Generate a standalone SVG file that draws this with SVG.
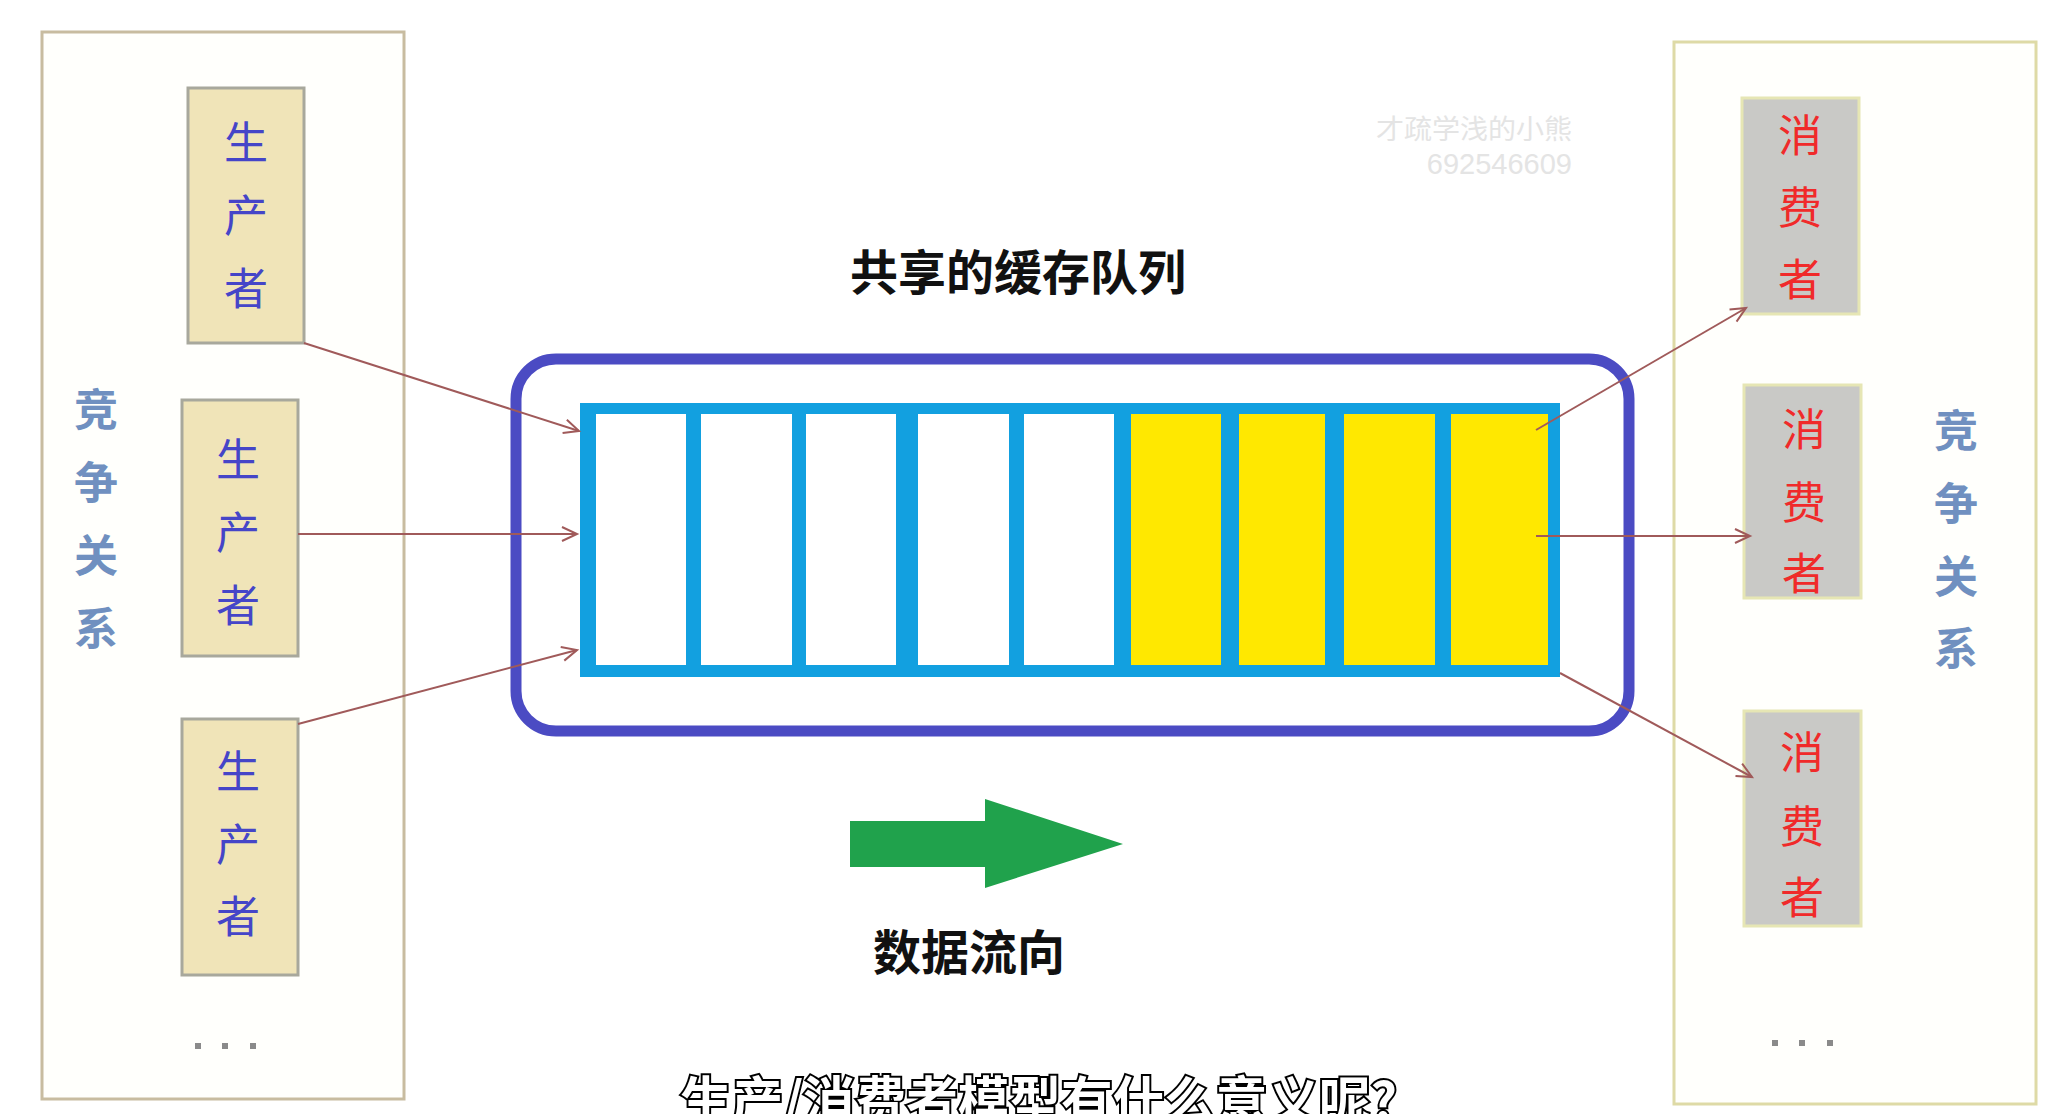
<svg xmlns="http://www.w3.org/2000/svg" width="2064" height="1114" viewBox="0 0 2064 1114">
<style>
.cjk{font-family:"Noto Sans CJK SC","Noto Sans",sans-serif}
.prod{fill:#4545c8;font-size:44px;text-anchor:middle}
.cons{fill:#f02a2a;font-size:44px;text-anchor:middle}
.rel{fill:#7090c0;font-size:44px;font-weight:bold;text-anchor:middle}
.pbox{fill:#f0e4b8;stroke:#a8a89c;stroke-width:3}
.cbox{fill:#c9c9c6;stroke:#e6e6b4;stroke-width:3}
.panel{fill:#fffffc;stroke-width:3}
.cell{stroke:none}
.conn{fill:none;stroke:#a05a5a;stroke-width:2}
.dot{fill:#8a8a8a}
.title{fill:#111;font-size:48px;font-weight:bold}
</style>
<defs>
<marker id="open" markerUnits="userSpaceOnUse" markerWidth="20" markerHeight="20" refX="16" refY="8" orient="auto">
<path d="M1,1 L16,8 L1,15" fill="none" stroke="#a05a5a" stroke-width="2"/>
</marker>
</defs>
<rect width="2064" height="1114" fill="#ffffff"/>

<g id="left-panel">
<rect class="panel" x="42" y="32" width="362" height="1067" stroke="#c8bca0"/>
<g class="cjk rel"><text x="96" y="426">竞</text><text x="96" y="499">争</text><text x="96" y="572">关</text><text x="96" y="645">系</text></g>
<rect class="dot" x="195" y="1043" width="6" height="6"/><rect class="dot" x="222" y="1043" width="6" height="6"/><rect class="dot" x="250" y="1043" width="6" height="6"/>
</g>

<g id="producer1">
<rect class="pbox" x="188" y="88" width="116" height="255"/>
<g class="cjk prod"><text x="246" y="159">生</text><text x="246" y="232">产</text><text x="246" y="305">者</text></g>
</g>
<g id="producer2">
<rect class="pbox" x="182" y="400" width="116" height="256"/>
<g class="cjk prod"><text x="238" y="476">生</text><text x="238" y="549">产</text><text x="238" y="622">者</text></g>
</g>
<g id="producer3">
<rect class="pbox" x="182" y="719" width="116" height="256"/>
<g class="cjk prod"><text x="238" y="788">生</text><text x="238" y="861">产</text><text x="238" y="933">者</text></g>
</g>

<g id="right-panel">
<rect class="panel" x="1674" y="42" width="362" height="1062" stroke="#dedaa6"/>
<g class="cjk rel"><text x="1956" y="447">竞</text><text x="1956" y="520">争</text><text x="1956" y="593">关</text><text x="1956" y="665">系</text></g>
<rect class="dot" x="1772" y="1040" width="6" height="6"/><rect class="dot" x="1799" y="1040" width="6" height="6"/><rect class="dot" x="1827" y="1040" width="6" height="6"/>
</g>

<g id="consumer1">
<rect class="cbox" x="1742" y="98" width="117" height="216"/>
<g class="cjk cons"><text x="1800" y="152">消</text><text x="1800" y="224">费</text><text x="1800" y="296">者</text></g>
</g>
<g id="consumer2">
<rect class="cbox" x="1744" y="385" width="117" height="213"/>
<g class="cjk cons"><text x="1804" y="446">消</text><text x="1804" y="519">费</text><text x="1804" y="590">者</text></g>
</g>
<g id="consumer3">
<rect class="cbox" x="1744" y="711" width="117" height="215"/>
<g class="cjk cons"><text x="1802" y="769">消</text><text x="1802" y="843">费</text><text x="1802" y="914">者</text></g>
</g>

<g id="queue">
<text class="cjk title" x="850" y="290">共享的缓存队列</text>
<rect x="516" y="359" width="1113" height="372" rx="40" ry="40" fill="none" stroke="#4b4bc3" stroke-width="11"/>
<rect x="580" y="403" width="980" height="274" fill="#12a0e0"/>
<g class="cell" fill="#ffffff">
<rect x="596" y="414" width="90" height="251"/>
<rect x="701" y="414" width="91" height="251"/>
<rect x="806" y="414" width="90" height="251"/>
<rect x="918" y="414" width="91" height="251"/>
<rect x="1024" y="414" width="90" height="251"/>
</g>
<g class="cell" fill="#ffe800">
<rect x="1131" y="414" width="90" height="251"/>
<rect x="1239" y="414" width="86" height="251"/>
<rect x="1344" y="414" width="91" height="251"/>
<rect x="1451" y="414" width="97" height="251"/>
</g>
</g>

<g id="flow">
<path d="M850,821 L985,821 L985,799 L1123,844 L985,888 L985,867 L850,867 Z" fill="#20a24c"/>
<text class="cjk title" x="873" y="970">数据流向</text>
</g>

<g id="connectors">
<line class="conn" x1="304" y1="343" x2="579" y2="431" marker-end="url(#open)"/>
<line class="conn" x1="298" y1="534" x2="577" y2="534" marker-end="url(#open)"/>
<line class="conn" x1="298" y1="724" x2="577" y2="650" marker-end="url(#open)"/>
<line class="conn" x1="1536" y1="430" x2="1746" y2="308" marker-end="url(#open)"/>
<line class="conn" x1="1536" y1="536" x2="1750" y2="536" marker-end="url(#open)"/>
<line class="conn" x1="1560" y1="673" x2="1752" y2="777" marker-end="url(#open)"/>
</g>

<g id="watermark" class="cjk" fill="#e4e4e4" text-anchor="end">
<text x="1572" y="139" font-size="27" textLength="196" lengthAdjust="spacingAndGlyphs">才疏学浅的小熊</text>
<text x="1572" y="174" font-size="29" font-family="Liberation Sans,sans-serif">692546609</text>
</g>

<text class="cjk" x="680" y="1120" font-size="52" textLength="717" lengthAdjust="spacingAndGlyphs" fill="#ffffff" stroke="#000000" stroke-width="4" paint-order="stroke" font-weight="bold">生产/消费者模型有什么意义呢?</text>
</svg>
